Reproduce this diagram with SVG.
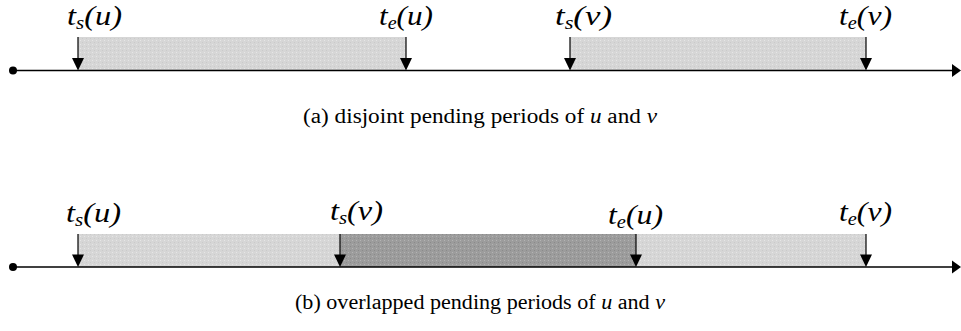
<svg xmlns="http://www.w3.org/2000/svg" width="961" height="331" viewBox="0 0 961 331">
<defs>
<pattern id="lt" width="4" height="4" patternUnits="userSpaceOnUse">
<rect width="4" height="4" fill="#d6d6d6"/>
<rect x="0" y="0" width="1" height="1" fill="#e6e6e6"/>
<rect x="2" y="2" width="1" height="1" fill="#cacaca"/>
</pattern>
<pattern id="dk" width="4" height="4" patternUnits="userSpaceOnUse">
<rect width="4" height="4" fill="#9c9c9c"/>
<rect x="0" y="0" width="1" height="1" fill="#b4b4b4"/>
<rect x="2" y="2" width="1" height="1" fill="#8a8a8a"/>
</pattern>
<polygon id="head" points="-6,0 6,0 0,12.5" fill="#000"/>
</defs>
<style>
.ax{stroke:#000;stroke-width:1.5;fill:none}
.tk{stroke:#000;stroke-width:1.2}
.lb{font-family:"Liberation Serif","Times New Roman",serif;font-style:italic;font-size:28px;fill:#000}
.sb{font-size:18px}
.cap{font-family:"Liberation Serif","Times New Roman",serif;font-size:20px;fill:#000}
.it{font-style:italic}
</style>
<g id="periods-a">
<rect x="78" y="37" width="328" height="33" fill="url(#lt)"/>
<rect x="570" y="37" width="296" height="33" fill="url(#lt)"/>
</g>
<g id="periods-b">
<rect x="78" y="234" width="262" height="33" fill="url(#lt)"/>
<rect x="340" y="234" width="296" height="33" fill="url(#dk)"/>
<rect x="636" y="234" width="230" height="33" fill="url(#lt)"/>
</g>
<g id="axes">
<circle cx="13" cy="70.5" r="4" fill="#000"/>
<line class="ax" x1="13" y1="70.5" x2="953" y2="70.5"/>
<polygon points="952,64 961,70.5 952,77" fill="#000"/>
<circle cx="13" cy="267" r="4" fill="#000"/>
<line class="ax" x1="13" y1="267" x2="953" y2="267"/>
<polygon points="952,260.5 961,267 952,273.5" fill="#000"/>
</g>
<g id="connectors">
<line class="tk" x1="78" y1="37" x2="78" y2="59"/><use href="#head" x="78" y="58"/>
<line class="tk" x1="406" y1="37" x2="406" y2="59"/><use href="#head" x="406" y="58"/>
<line class="tk" x1="570" y1="37" x2="570" y2="59"/><use href="#head" x="570" y="58"/>
<line class="tk" x1="866" y1="37" x2="866" y2="59"/><use href="#head" x="866" y="58"/>
<line class="tk" x1="78" y1="234" x2="78" y2="256"/><use href="#head" x="78" y="254.5"/>
<line class="tk" x1="340" y1="234" x2="340" y2="256"/><use href="#head" x="340" y="254.5"/>
<line class="tk" x1="636" y1="234" x2="636" y2="256"/><use href="#head" x="636" y="254.5"/>
<line class="tk" x1="866" y1="234" x2="866" y2="256"/><use href="#head" x="866" y="254.5"/>
</g>
<g id="labels-a">
<text class="lb" x="67" y="25" textLength="55" lengthAdjust="spacingAndGlyphs">t<tspan class="sb" dy="4">s</tspan><tspan dy="-4">(u)</tspan></text>
<text class="lb" x="379" y="25" textLength="54" lengthAdjust="spacingAndGlyphs">t<tspan class="sb" dy="4">e</tspan><tspan dy="-4">(u)</tspan></text>
<text class="lb" x="555" y="25" textLength="57" lengthAdjust="spacingAndGlyphs">t<tspan class="sb" dy="4">s</tspan><tspan dy="-4">(v)</tspan></text>
<text class="lb" x="839" y="25" textLength="53" lengthAdjust="spacingAndGlyphs">t<tspan class="sb" dy="4">e</tspan><tspan dy="-4">(v)</tspan></text>
</g>
<g id="labels-b">
<text class="lb" x="66" y="222" textLength="55" lengthAdjust="spacingAndGlyphs">t<tspan class="sb" dy="4">s</tspan><tspan dy="-4">(u)</tspan></text>
<text class="lb" x="330" y="220" textLength="53" lengthAdjust="spacingAndGlyphs">t<tspan class="sb" dy="4">s</tspan><tspan dy="-4">(v)</tspan></text>
<text class="lb" x="608" y="224" textLength="55" lengthAdjust="spacingAndGlyphs">t<tspan class="sb" dy="4">e</tspan><tspan dy="-4">(u)</tspan></text>
<text class="lb" x="839" y="221" textLength="53" lengthAdjust="spacingAndGlyphs">t<tspan class="sb" dy="4">e</tspan><tspan dy="-4">(v)</tspan></text>
</g>
<g id="captions">
<text class="cap" x="303" y="123" textLength="354" lengthAdjust="spacingAndGlyphs">(a) disjoint pending periods of <tspan class="it">u</tspan> and <tspan class="it">v</tspan></text>
<text class="cap" x="295" y="309" textLength="370" lengthAdjust="spacingAndGlyphs">(b) overlapped pending periods of <tspan class="it">u</tspan> and <tspan class="it">v</tspan></text>
</g>
</svg>
